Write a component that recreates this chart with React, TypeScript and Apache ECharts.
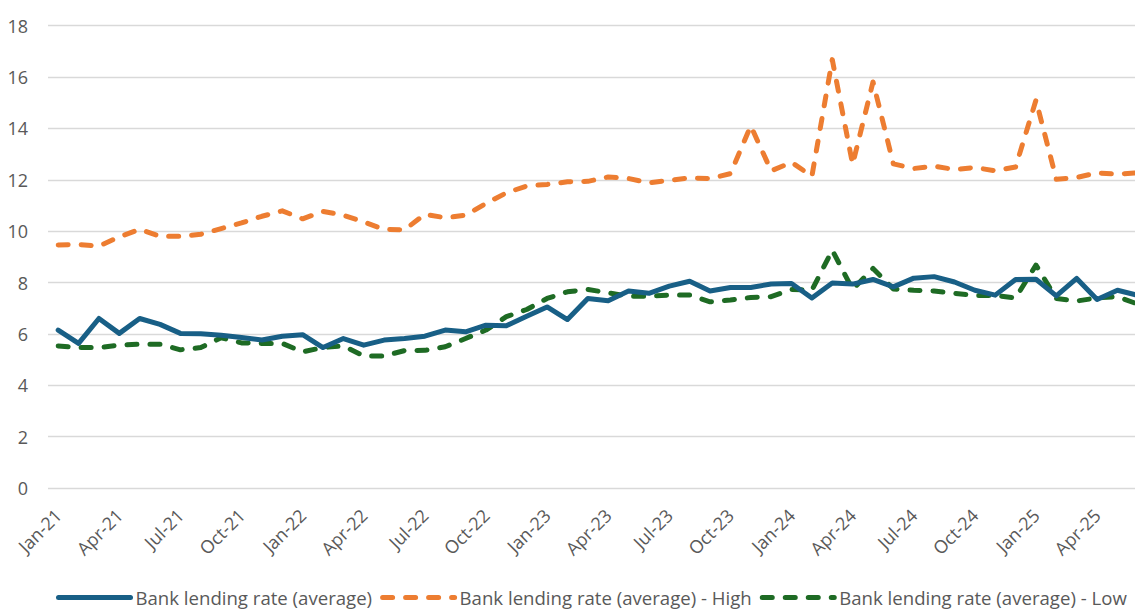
import React, { useEffect, useRef } from "react";
import * as echarts from "echarts";

const categories = [
  "Jan-21","Feb-21","Mar-21","Apr-21","May-21","Jun-21","Jul-21","Aug-21","Sep-21","Oct-21","Nov-21","Dec-21",
  "Jan-22","Feb-22","Mar-22","Apr-22","May-22","Jun-22","Jul-22","Aug-22","Sep-22","Oct-22","Nov-22","Dec-22",
  "Jan-23","Feb-23","Mar-23","Apr-23","May-23","Jun-23","Jul-23","Aug-23","Sep-23","Oct-23","Nov-23","Dec-23",
  "Jan-24","Feb-24","Mar-24","Apr-24","May-24","Jun-24","Jul-24","Aug-24","Sep-24","Oct-24","Nov-24","Dec-24",
  "Jan-25","Feb-25","Mar-25","Apr-25","May-25","Jun-25",
];

const averageRate = [
  6.15, 5.63, 6.6, 6.02, 6.6, 6.37, 6.02, 6.01, 5.95, 5.86, 5.76, 5.91,
  5.97, 5.47, 5.82, 5.56, 5.76, 5.82, 5.91, 6.15, 6.08, 6.34, 6.32, 6.69,
  7.05, 6.56, 7.38, 7.29, 7.67, 7.58, 7.86, 8.05, 7.67, 7.81, 7.81, 7.94,
  7.96, 7.4, 7.98, 7.94, 8.12, 7.83, 8.17, 8.23, 8.02, 7.7, 7.51, 8.12,
  8.13, 7.48, 8.16, 7.34, 7.7, 7.5,
];

const highRate = [
  9.46, 9.48, 9.42, 9.78, 10.07, 9.8, 9.8, 9.88, 10.1, 10.32, 10.58, 10.79,
  10.48, 10.77, 10.62, 10.36, 10.07, 10.05, 10.66, 10.52, 10.62, 11.08, 11.49, 11.76,
  11.82, 11.92, 11.94, 12.11, 12.05, 11.88, 11.98, 12.07, 12.05, 12.24, 14.1, 12.35,
  12.68, 12.14, 16.68, 12.6, 15.81, 12.62, 12.44, 12.53, 12.4, 12.48, 12.35, 12.5,
  15.1, 12.02, 12.09, 12.27, 12.22, 12.27,
];

const lowRate = [
  5.53, 5.47, 5.47, 5.56, 5.6, 5.6, 5.38, 5.47, 5.85, 5.65, 5.63, 5.63,
  5.3, 5.47, 5.53, 5.14, 5.14, 5.35, 5.36, 5.5, 5.82, 6.15, 6.67, 6.95,
  7.38, 7.64, 7.73, 7.6, 7.47, 7.47, 7.51, 7.51, 7.25, 7.32, 7.42, 7.45,
  7.73, 7.7, 9.26, 7.73, 8.55, 7.75, 7.7, 7.67, 7.58, 7.5, 7.5, 7.4,
  8.68, 7.38, 7.28, 7.4, 7.45, 7.16,
];

const seriesNames = [
  "Bank lending rate (average)",
  "Bank lending rate (average) - High",
  "Bank lending rate (average) - Low",
];

const FONT = "'Open Sans', 'Noto Sans', sans-serif";
const TEXT_COLOR = "#595959";

export default function App() {
  const ref = useRef<HTMLDivElement>(null);

  useEffect(() => {
    if (!ref.current) return;
    const chart = echarts.init(ref.current, undefined, { renderer: "svg" });
    const dash = [10, 13];
    chart.setOption({
      animation: false,
      backgroundColor: "#ffffff",
      textStyle: { fontFamily: FONT },
      grid: { left: 48, right: 0, top: 25.7, bottom: 122, containLabel: false },
      legend: {
        left: 56,
        top: 588,
        padding: 0,
        itemWidth: 72,
        itemHeight: 14,
        itemGap: 8,
        textStyle: { fontFamily: FONT, fontSize: 18.6, color: TEXT_COLOR },
        lineStyle: { width: 5, cap: "round" },
        itemStyle: { opacity: 0 },
        data: seriesNames,
      },
      xAxis: {
        type: "category",
        data: categories,
        boundaryGap: true,
        axisLine: { show: false },
        axisTick: { show: false },
        axisLabel: {
          interval: 2,
          rotate: 45,
          margin: 24,
          fontFamily: FONT,
          fontSize: 18,
          color: TEXT_COLOR,
        },
        splitLine: { show: false },
      },
      yAxis: {
        type: "value",
        min: 0,
        max: 18,
        interval: 2,
        axisLine: { show: false },
        axisTick: { show: false },
        axisLabel: { margin: 20, fontFamily: FONT, fontSize: 18, color: TEXT_COLOR },
        splitLine: { lineStyle: { color: "#d9d9d9", width: 1.3 } },
      },
      series: [
        {
          name: seriesNames[0],
          type: "line",
          data: averageRate,
          symbol: "none",
          z: 3,
          lineStyle: { color: "#185f86", width: 5, cap: "round", join: "round" },
          itemStyle: { color: "#185f86" },
        },
        {
          name: seriesNames[1],
          type: "line",
          data: highRate,
          symbol: "none",
          z: 2,
          lineStyle: { color: "#ed7d31", width: 5, type: dash, cap: "round", join: "round" },
          itemStyle: { color: "#ed7d31" },
        },
        {
          name: seriesNames[2],
          type: "line",
          data: lowRate,
          symbol: "none",
          z: 2,
          lineStyle: { color: "#1e6b24", width: 5, type: dash, cap: "round", join: "round" },
          itemStyle: { color: "#1e6b24" },
        },
      ],
    });
    return () => chart.dispose();
  }, []);

  return (
    <div
      style={{ position: "absolute", left: 0, top: 0, width: 1135, height: 610, overflow: "hidden", background: "#fff" }}
    >
      <div ref={ref} style={{ width: 1148, height: 610 }} />
    </div>
  );
}
